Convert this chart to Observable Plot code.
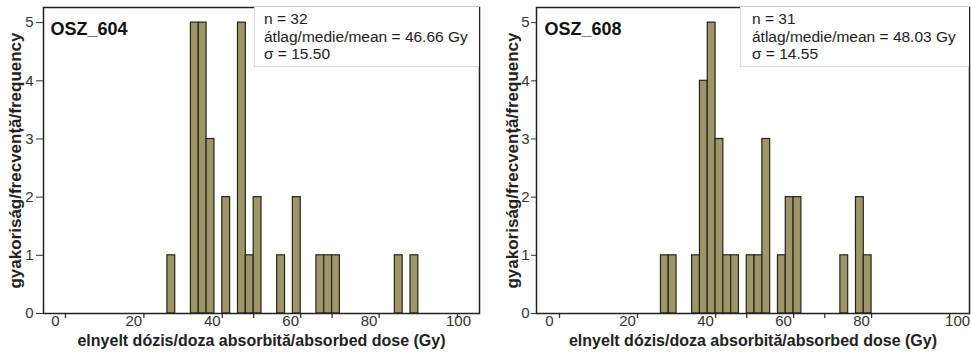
<!DOCTYPE html>
<html><head><meta charset="utf-8">
<script src="https://cdn.jsdelivr.net/npm/d3@7"></script>
<script src="https://cdn.jsdelivr.net/npm/@observablehq/plot@0.6"></script>
<style>
body{margin:0;background:#fff;}
#wrap{position:relative;width:971px;height:356px;overflow:hidden;font-family:"Liberation Sans",Arial,sans-serif;}
#wrap svg{position:absolute;top:0;}
.info{position:absolute;top:7px;height:60px;background:#fff;border-left:1.5px solid #dcdcdc;border-bottom:1.5px solid #dcdcdc;box-sizing:border-box;padding-top:3px;font-size:15.5px;line-height:17.5px;color:#222;white-space:nowrap;}
</style></head><body><div id="wrap"></div>
<script>
// ---- data ----
const panelNames = ["OSZ_604", "OSZ_608"];
const nValues = [32, 31];
const meanValues = ["46.66", "48.03"];
const sigmaValues = ["15.50", "14.55"];
const binWidth = 2;
const osz604Start = [26, 32, 34, 36, 40, 44, 46, 48, 54, 58, 64, 66, 68, 84, 88];
const osz604Count = [1, 5, 5, 3, 2, 5, 1, 2, 1, 2, 1, 1, 1, 1, 1];
const osz608Start = [26, 28, 34, 36, 38, 40, 42, 44, 48, 50, 52, 56, 58, 60, 72, 76, 78];
const osz608Count = [1, 1, 1, 4, 5, 3, 1, 1, 1, 1, 3, 1, 2, 2, 1, 2, 1];
const yTicks = [0, 1, 2, 3, 4, 5];
const xTickMarks = [0, 20, 40, 48, 60, 68, 80, 100];
const xTickLabels = [0, 20, 40, 60, 80];
const xTickLast = [100];
const xLabel = "elnyelt dózis/doza absorbită/absorbed dose (Gy)";
const yLabel = "gyakoriság/frecvență/frequency";

const font = '"Liberation Sans", Arial, sans-serif';
const wrap = document.getElementById("wrap");

function panel(o) {
  const data = o.start.map((s, i) => ({x1: s, x2: s + binWidth, y: o.count[i]}));
  const svg = Plot.plot({
    width: o.width, height: 356,
    marginTop: 7, marginBottom: 43, marginLeft: o.ml, marginRight: o.mr,
    style: {fontFamily: font, fontSize: "15px", color: "#333", background: "transparent", overflow: "visible"},
    x: {domain: o.domain},
    y: {domain: [0, 5.26]},
    marks: [
      Plot.rectY(data, {x1: "x1", x2: "x2", y: "y", fill: "#9c9669", stroke: "#262619", strokeWidth: 1.2}),
      Plot.axisY({ticks: yTicks, tickFormat: d => String(d), tickSize: o.yts, tickPadding: o.ytp, label: null, fontSize: 15, stroke: "#333", fill: "#333"}),
      Plot.axisX({ticks: xTickMarks, tickSize: 5, fill: "none", label: null, stroke: "#333", strokeWidth: 1.3}),
      Plot.text(xTickLabels, {x: d => d, text: d => String(d), frameAnchor: "bottom", dy: 12, dx: -10, fontSize: 15, fill: "#333"}),
      Plot.text(xTickLast, {x: d => d, text: d => String(d), frameAnchor: "bottom", dy: 12, dx: o.lastDx, fontSize: 15, fill: "#333"}),
      Plot.frame({stroke: "#222", strokeWidth: 1.5}),
      Plot.text([yLabel], {text: d => d, frameAnchor: "left", textAnchor: "middle", dx: -o.ylo, rotate: -90, fontSize: 17, fontWeight: "bold", fill: "#222"}),
      Plot.text([xLabel], {text: d => d, frameAnchor: "bottom", dy: 32, fontSize: 16, fontWeight: "bold", fill: "#222"}),
      Plot.text([o.title], {text: d => d, frameAnchor: "top-left", dx: o.tdx, dy: 15, textAnchor: "start", fontSize: 18, fontWeight: "bold", fill: "#111"})
    ]
  });
  svg.style.left = o.left + "px";
  wrap.appendChild(svg);
  const box = document.createElement("div");
  box.className = "info";
  box.style.left = o.boxLeft + "px";
  box.style.width = o.boxWidth + "px";
  box.style.paddingLeft = o.boxPad + "px";
  box.innerHTML = `n = ${o.n}<br>átlag/medie/mean = ${o.mean} Gy<br>σ = ${o.sigma}`;
  wrap.appendChild(box);
}

panel({start: osz604Start, count: osz604Count, title: panelNames[0], n: nValues[0], mean: meanValues[0], sigma: sigmaValues[0],
  left: 0, width: 484, ml: 43, mr: 5, domain: [-5.6, 105.6], yts: 7, ytp: 3, ylo: 28, tdx: 7, lastDx: 1,
  boxLeft: 254, boxWidth: 225, boxPad: 9});
panel({start: osz608Start, count: osz608Count, title: panelNames[1], n: nValues[1], mean: meanValues[1], sigma: sigmaValues[1],
  left: 484, width: 487, ml: 52, mr: 2, domain: [-5.9, 105.1], yts: 5, ytp: 2, ylo: 24, tdx: 8, lastDx: 8,
  boxLeft: 740, boxWidth: 229, boxPad: 11});
</script></body></html>
